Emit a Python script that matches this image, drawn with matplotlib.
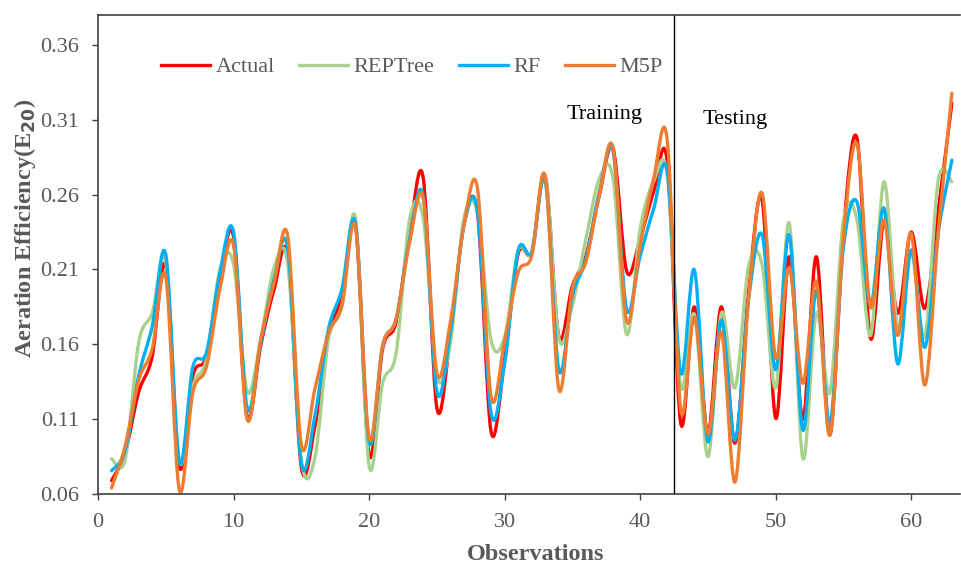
import numpy as np
import matplotlib
matplotlib.use("Agg")
import matplotlib.pyplot as plt
from matplotlib.path import Path
from matplotlib.patches import PathPatch
from matplotlib.lines import Line2D

observations = list(range(1, 64))

actual = [0.069, 0.0875, 0.128, 0.152, 0.2125, 0.078, 0.139, 0.152, 0.206, 0.232,
          0.112, 0.159, 0.197, 0.219, 0.078, 0.105, 0.166, 0.1925, 0.239, 0.086,
          0.157, 0.175, 0.235, 0.2708, 0.1177, 0.1655, 0.240, 0.2475, 0.1018, 0.150,
          0.2205, 0.2215, 0.272, 0.1655, 0.199, 0.219, 0.260, 0.291, 0.209, 0.2305,
          0.262, 0.282, 0.107, 0.185, 0.1007, 0.185, 0.094, 0.195, 0.2564, 0.1107,
          0.2185, 0.110, 0.2185, 0.0994, 0.2364, 0.2976, 0.164, 0.243, 0.1807, 0.235,
          0.184, 0.250, 0.321]

reptree = [0.0835, 0.083, 0.161, 0.181, 0.215, 0.082, 0.132, 0.150, 0.210, 0.2137,
           0.1287, 0.163, 0.2115, 0.2137, 0.083, 0.084, 0.163, 0.186, 0.244, 0.079,
           0.134, 0.1545, 0.244, 0.244, 0.139, 0.161, 0.244, 0.2475, 0.163, 0.165,
           0.2227, 0.2215, 0.272, 0.1645, 0.186, 0.2305, 0.2708, 0.271, 0.1667, 0.237,
           0.269, 0.273, 0.132, 0.180, 0.085, 0.181, 0.131, 0.212, 0.213, 0.131,
           0.241, 0.084, 0.181, 0.128, 0.243, 0.243, 0.166, 0.2686, 0.172, 0.222,
           0.165, 0.2698, 0.2686]

rf = [0.0755, 0.089, 0.139, 0.172, 0.220, 0.0817, 0.145, 0.1545, 0.208, 0.235,
      0.1177, 0.161, 0.2035, 0.224, 0.081, 0.112, 0.170, 0.197, 0.2405, 0.095,
      0.159, 0.177, 0.2305, 0.2587, 0.1287, 0.168, 0.2395, 0.2485, 0.114, 0.147,
      0.2227, 0.2215, 0.269, 0.143, 0.1925, 0.217, 0.262, 0.289, 0.1835, 0.219,
      0.2505, 0.2755, 0.141, 0.2097, 0.095, 0.176, 0.096, 0.190, 0.233, 0.143,
      0.233, 0.1028, 0.196, 0.107, 0.225, 0.255, 0.186, 0.2508, 0.147, 0.223,
      0.158, 0.235, 0.283]

m5p = [0.064, 0.092, 0.136, 0.157, 0.205, 0.0627, 0.128, 0.145, 0.197, 0.226,
       0.110, 0.163, 0.2015, 0.232, 0.093, 0.130, 0.167, 0.186, 0.2385, 0.0975,
       0.159, 0.177, 0.2285, 0.2573, 0.141, 0.175, 0.2395, 0.264, 0.1253, 0.162,
       0.208, 0.219, 0.272, 0.130, 0.197, 0.215, 0.260, 0.291, 0.1757, 0.226,
       0.2708, 0.2965, 0.116, 0.178, 0.100, 0.168, 0.068, 0.190, 0.261, 0.151,
       0.211, 0.134, 0.202, 0.0994, 0.232, 0.294, 0.185, 0.243, 0.166, 0.234,
       0.1328, 0.235, 0.3277]

series_names = ["Actual", "REPTree", "RF", "M5P"]
series_colors = ["#FF0000", "#A9D18E", "#00B0F0", "#ED7D31"]
y_ticks = [0.06, 0.11, 0.16, 0.21, 0.26, 0.31, 0.36]
x_ticks = [0, 10, 20, 30, 40, 50, 60]
split_at = 42.5

plt.rcParams['font.family'] = ['Liberation Serif', 'DejaVu Serif']

fig = plt.figure(figsize=(9.61, 5.68), dpi=100)
ax = fig.add_axes([98/961, 1-494/568, (960-98)/961, (494-15)/568])


def smooth_path(xs, ys):
    P = np.column_stack([xs, ys]).astype(float)
    n = len(P)
    verts = [P[0]]
    codes = [Path.MOVETO]
    for i in range(n - 1):
        p0 = P[i - 1] if i > 0 else P[i]
        p1 = P[i]
        p2 = P[i + 1]
        p3 = P[i + 2] if i + 2 < n else P[i + 1]
        c1 = p1 + (p2 - p0) / 6.0
        c2 = p2 - (p3 - p1) / 6.0
        verts += [c1, c2, p2]
        codes += [Path.CURVE4] * 3
    return Path(verts, codes)


handles = []
for name, vals, col in zip(series_names, [actual, reptree, rf, m5p], series_colors):
    patch = PathPatch(smooth_path(observations, vals), facecolor='none',
                      edgecolor=col, lw=2.4, capstyle='round', joinstyle='round')
    ax.add_patch(patch)
    handles.append(Line2D([], [], color=col, lw=2.4, label=name))

ax.axvline(split_at, color='black', lw=1.0)

ax.set_xlim(0, 63.6)
ax.set_ylim(0.06, 0.38)
ax.set_xticks(x_ticks)
ax.set_yticks(y_ticks)
ax.set_yticklabels([f"{v:.2f}" for v in y_ticks])
ax.spines['right'].set_visible(False)
for s in ['left', 'bottom', 'top']:
    ax.spines[s].set_color('#404040')
    ax.spines[s].set_linewidth(1.2)
ax.tick_params(axis='both', direction='out', length=4.5, width=1.0, color='#404040',
               labelsize=16, labelcolor='#595959', pad=9)
ax.tick_params(axis='y', pad=9)

fig.text(605/961, 1-115/568, "Training", fontsize=16, color='black',
         ha='center', va='center')
fig.text(735/961, 1-120/568, "Testing", fontsize=16, color='black',
         ha='center', va='center')

fig.text(25/961, 1-228/568, "Aeration Efficiency(E$_{\\mathbf{20}}$)", rotation=90,
         fontsize=17.5, fontweight='bold', color='#595959', ha='center', va='center')
fig.text(536/961, 1-555/568, "Observations", fontsize=17.5, fontweight='bold',
         color='#595959', ha='center', va='center')

leg = fig.legend(handles=handles, loc='center left', bbox_to_anchor=(161/961, 1-67/568),
                 ncol=4, frameon=False, fontsize=16, handlelength=2.2, handletextpad=0.25,
                 columnspacing=1.1, borderpad=0, borderaxespad=0)
for t in leg.get_texts():
    t.set_color('#595959')

fig.savefig("out.png", dpi=100)
